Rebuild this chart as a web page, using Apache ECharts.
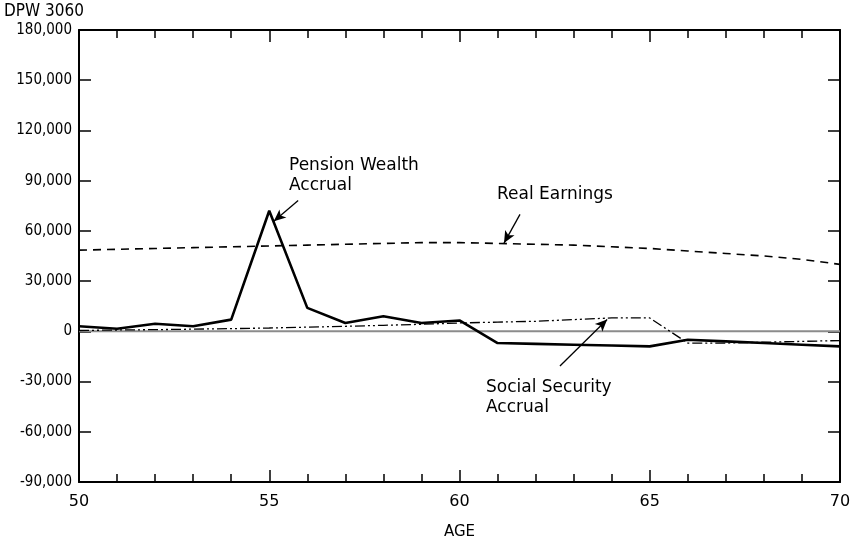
<!DOCTYPE html>
<html>
<head>
<meta charset="utf-8">
<script src="https://cdn.jsdelivr.net/npm/echarts@6/dist/echarts.min.js"></script>
<style>html,body{margin:0;padding:0;background:#fff}#c{width:854px;height:545px}</style>
</head>
<body>
<div id="c"></div>
<script>
var ages = [50,51,52,53,54,55,56,57,58,59,60,61,62,63,64,65,66,67,68,69,70];
var pensionAccrual = [3000,1500,4500,3000,7000,72000,14000,5000,9000,5000,6500,-7000,-7500,-8000,-8500,-9000,-5000,-6000,-7000,-8000,-9000];
var realEarnings = [48500,49000,49500,50000,50500,51000,51500,52000,52500,53000,53000,52500,52000,51500,50500,49500,48000,46500,45000,43000,40000];
var ssAccrual = [500,800,1000,1300,1600,2000,2500,3000,3600,4200,5000,5500,6000,7000,8000,8000,-7000,-7000,-6500,-6000,-5500];

function pairs(v){ return ages.map(function(a,i){ return [a, v[i]]; }); }
var FONT = "'DejaVu Sans',sans-serif";
var CFONT = "'DejaVu Sans Condensed','DejaVu Sans',sans-serif";
var chart = echarts.init(document.getElementById('c'), null, {renderer:'canvas'});
var axLine = {show:true, onZero:false, lineStyle:{color:'#000', width:2}};
function arrow(x1,y1,x2,y2){
  return [{coord:[x1,y1], symbol:'none'},{coord:[x2,y2], symbol:'arrow', symbolSize:[8,12]}];
}
chart.setOption({
  animation:false,
  backgroundColor:'#fff',
  grid:{left:79, right:14, top:30, bottom:57, containLabel:false},
  title:{text:'DPW 3060', left:-1, top:-2, textStyle:{fontFamily:CFONT, fontSize:17, fontWeight:'normal', color:'#000'}},
  xAxis:[{
    type:'value', min:50, max:70, interval:5, position:'bottom',
    name:'AGE', nameLocation:'middle', nameGap:43,
    nameTextStyle:{fontFamily:FONT, fontSize:15, color:'#000'},
    axisLine:axLine,
    axisTick:{show:true, inside:true, length:12, lineStyle:{color:'#000', width:1.5}},
    minorTick:{show:true, splitNumber:5, length:8, lineStyle:{color:'#000', width:1.5}},
    axisLabel:{fontFamily:FONT, fontSize:16, color:'#000', margin:12},
    splitLine:{show:false}
  },{
    type:'value', min:50, max:70, interval:5, position:'top',
    axisLine:axLine,
    axisTick:{show:true, inside:true, length:12, lineStyle:{color:'#000', width:1.5}},
    minorTick:{show:true, splitNumber:5, length:8, lineStyle:{color:'#000', width:1.5}},
    axisLabel:{show:false}, splitLine:{show:false}
  }],
  yAxis:[{
    type:'value', min:-90000, max:180000, interval:30000, position:'left',
    axisLine:axLine,
    axisTick:{show:true, inside:true, length:12, lineStyle:{color:'#000', width:1.5}},
    axisLabel:{fontFamily:CFONT, fontSize:15, color:'#000', margin:7,
      formatter:function(v){ return v.toLocaleString('en-US'); }},
    splitLine:{show:false}
  },{
    type:'value', min:-90000, max:180000, interval:30000, position:'right',
    axisLine:axLine,
    axisTick:{show:true, inside:true, length:12, lineStyle:{color:'#000', width:1.5}},
    axisLabel:{show:false}, splitLine:{show:false}
  }],
  graphic:[
    {type:'text', left:289, top:156, style:{text:'Pension Wealth\nAccrual', font:'17px '+FONT, fill:'#000', lineHeight:20}},
    {type:'text', left:497, top:186, style:{text:'Real Earnings', font:'17px '+FONT, fill:'#000'}},
    {type:'text', left:486, top:378, style:{text:'Social Security\nAccrual', font:'17px '+FONT, fill:'#000', lineHeight:20}}
  ],
  series:[
    {type:'line', name:'Zero', data:pairs(ages.map(function(){return 0;})), showSymbol:false, silent:true,
      lineStyle:{color:'#8c8c8c', width:2}, z:1},
    {type:'line', name:'Real Earnings', data:pairs(realEarnings), showSymbol:false,
      lineStyle:{color:'#000', width:1.6, type:[8,6]}, z:3,
      markLine:{silent:true, symbol:['none','arrow'], label:{show:false},
        lineStyle:{color:'#000', width:1.3, type:'solid'},
        data:[arrow(61.59,69900,61.17,52700)]}},
    {type:'line', name:'Social Security Accrual', data:pairs(ssAccrual), showSymbol:false,
      lineStyle:{color:'#000', width:1.3, type:[10,3,2,3,2,3]}, z:3,
      markLine:{silent:true, symbol:['none','arrow'], label:{show:false},
        lineStyle:{color:'#000', width:1.3, type:'solid'},
        data:[arrow(62.64,-20700,63.88,7100)]}},
    {type:'line', name:'Pension Wealth Accrual', data:pairs(pensionAccrual), showSymbol:false,
      lineStyle:{color:'#000', width:2.6}, z:4,
      markLine:{silent:true, symbol:['none','arrow'], label:{show:false},
        lineStyle:{color:'#000', width:1.3, type:'solid'},
        data:[arrow(55.76,78200,55.12,65700)]}}
  ]
});
</script>
</body>
</html>
